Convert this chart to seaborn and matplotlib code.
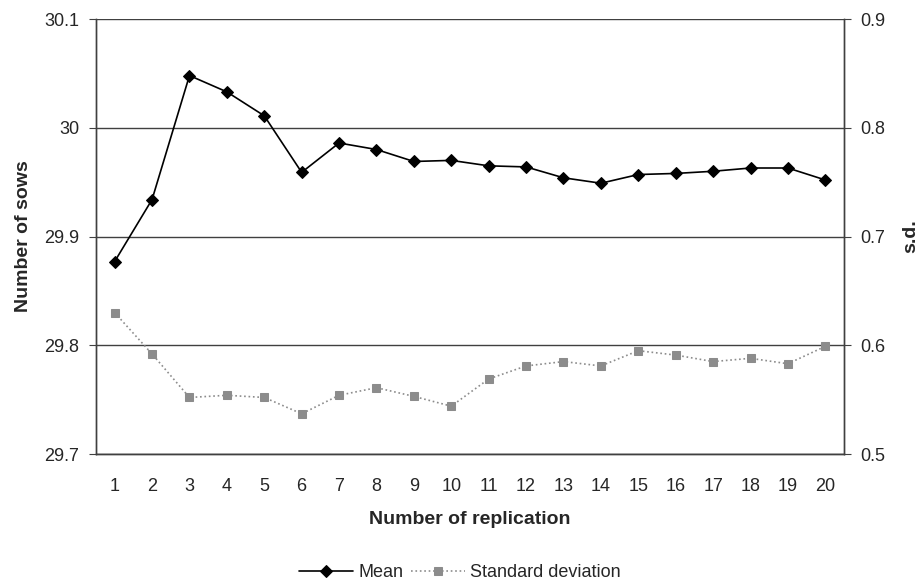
import matplotlib
matplotlib.use("Agg")
import matplotlib.pyplot as plt
import numpy as np
import seaborn as sns

# dati
replication = list(range(1, 21))
mean_sows = [29.877, 29.934, 30.048, 30.033, 30.011, 29.959, 29.986, 29.980, 29.969, 29.970,
             29.965, 29.964, 29.954, 29.949, 29.957, 29.958, 29.960, 29.963, 29.963, 29.952]
sd_sows = [0.630, 0.592, 0.552, 0.554, 0.552, 0.537, 0.554, 0.561, 0.553, 0.544,
           0.569, 0.581, 0.585, 0.581, 0.595, 0.591, 0.585, 0.588, 0.583, 0.599]
left_ticks = [29.7, 29.8, 29.9, 30.0, 30.1]
left_labels = ["29.7", "29.8", "29.9", "30", "30.1"]
right_ticks = [0.5, 0.6, 0.7, 0.8, 0.9]

sns.set_style("white")
plt.rcParams['font.family'] = ['Liberation Sans', 'DejaVu Sans']

fig = plt.figure(figsize=(9.2, 5.85), dpi=100)
ax = fig.add_axes([0.1043, 0.2239, 0.8131, 0.7436])
ax2 = ax.twinx()

sns.lineplot(x=replication, y=mean_sows, ax=ax, color='black', marker='D', markersize=6,
             markeredgecolor='black', linewidth=1.2, label='Mean', legend=False)
sns.lineplot(x=replication, y=sd_sows, ax=ax2, color='#8c8c8c', marker='s', markersize=6,
             markeredgecolor='#8c8c8c', linewidth=1.2, linestyle=':', label='Standard deviation',
             legend=False)

ax.set_xlim(0.5, 20.5)
ax.set_ylim(29.7, 30.1)
ax2.set_ylim(0.5, 0.9)

ax.set_yticks(left_ticks)
ax.set_yticklabels(left_labels)
ax2.set_yticks(right_ticks)
ax2.set_yticklabels([str(t) for t in right_ticks])

ax.set_xticks(replication)
ax.set_xticks(np.arange(0.5, 21, 1), minor=True)
ax.tick_params(axis='x', which='major', length=0, labelsize=13, pad=17)
ax.tick_params(axis='x', which='minor', length=5, direction='out', color='#404040', width=1)
ax.tick_params(axis='y', length=5, direction='out', color='#404040', labelsize=13, pad=7)
ax2.tick_params(axis='y', length=5, direction='out', color='#404040', labelsize=13, pad=7)

ax.grid(axis='y', color='#404040', linewidth=1)
ax.set_axisbelow(True)

for a in (ax, ax2):
    a.spines['top'].set_visible(False)
    for s in ('left', 'right', 'bottom'):
        a.spines[s].set_color('#404040')
        a.spines[s].set_linewidth(1)

ax.set_xlabel('Number of replication', fontsize=14, fontweight='bold', labelpad=12)
ax.set_ylabel('Number of sows', fontsize=14, fontweight='bold', labelpad=9)
ax2.set_ylabel('s.d.', fontsize=14, fontweight='bold', labelpad=12)

h1, l1 = ax.get_legend_handles_labels()
h2, l2 = ax2.get_legend_handles_labels()
fig.legend(h1 + h2, l1 + l2, loc='center', bbox_to_anchor=(0.5, 0.021), ncol=2,
           frameon=False, fontsize=13, handlelength=3.0, columnspacing=0.4, handletextpad=0.3)

fig.savefig('out.png', dpi=100)
